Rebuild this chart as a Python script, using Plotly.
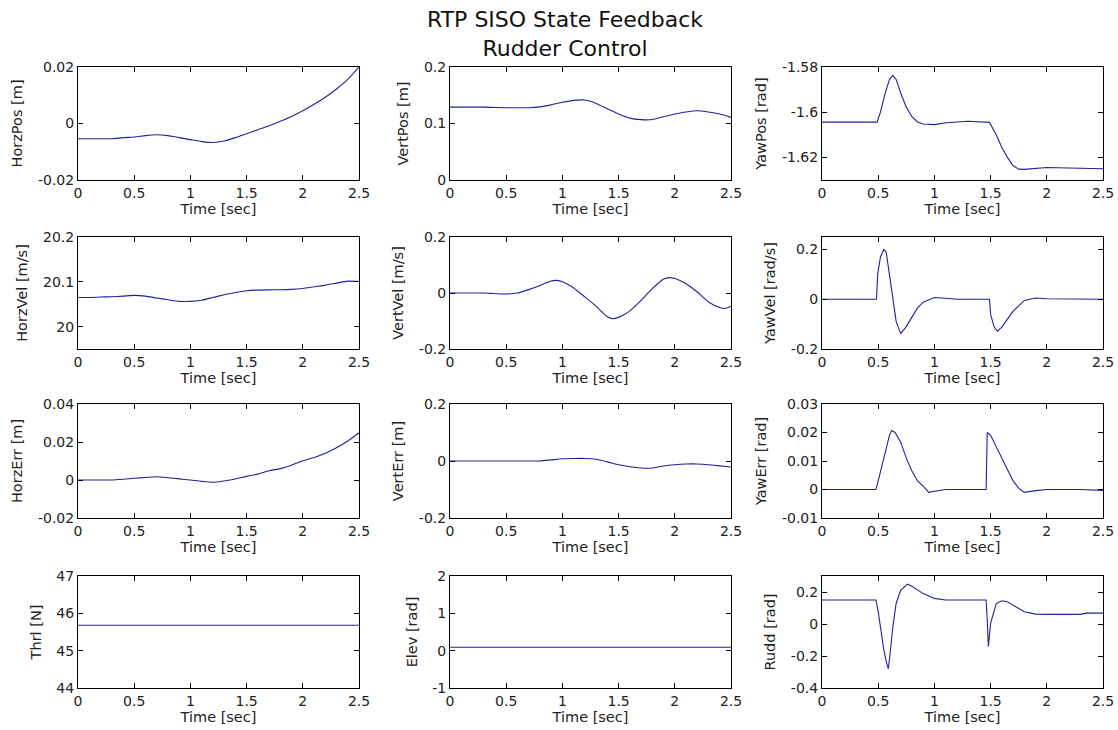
import plotly.graph_objects as go

# ---- data ----
t_10 = [0.0, 0.1, 0.2, 0.3, 0.4, 0.5, 0.6, 0.7, 0.8, 0.9, 1.0, 1.1, 1.2,
        1.3, 1.4, 1.5, 1.6, 1.7, 1.8, 1.9, 2.0, 2.1, 2.2, 2.3, 2.4, 2.5]

horz_pos = [-0.0054, -0.0054, -0.0054, -0.0054, -0.0050, -0.0048, -0.0043,
            -0.0040, -0.0043, -0.0050, -0.0057, -0.0064, -0.0067, -0.0062,
            -0.0050, -0.0036, -0.0022, -0.0008, 0.0008, 0.0025, 0.0045,
            0.0068, 0.0093, 0.0122, 0.0156, 0.0200]

vert_pos = [0.129, 0.129, 0.129, 0.129, 0.1282, 0.128, 0.128, 0.128, 0.1295,
            0.133, 0.1375, 0.141, 0.1415, 0.1355, 0.126, 0.1167, 0.1095,
            0.1068, 0.107, 0.112, 0.1167, 0.1205, 0.1226, 0.1205, 0.1167,
            0.1107]

t_yaw_pos = [0.0, 0.49, 0.52, 0.56, 0.6, 0.63, 0.66, 0.7, 0.75, 0.8, 0.85,
             0.9, 1.0, 1.1, 1.3, 1.49, 1.55, 1.6, 1.65, 1.7, 1.75, 1.8, 2.0,
             2.3, 2.5]
yaw_pos = [-1.6044, -1.6044, -1.600, -1.592, -1.5855, -1.5837, -1.5855,
           -1.5915, -1.5978, -1.602, -1.6043, -1.6052, -1.6055, -1.6047,
           -1.6040, -1.6045, -1.610, -1.6156, -1.620, -1.6237, -1.6252,
           -1.6253, -1.6245, -1.6247, -1.6250]

horz_vel = [20.065, 20.065, 20.066, 20.0667, 20.068, 20.0696, 20.068,
            20.0637, 20.060, 20.0563, 20.0563, 20.059, 20.065, 20.071,
            20.0763, 20.080, 20.0815, 20.082, 20.0822, 20.083, 20.0852,
            20.089, 20.0926, 20.097, 20.1015, 20.1007]

t_vert_vel = [0.0, 0.1, 0.2, 0.3, 0.4, 0.5, 0.6, 0.7, 0.8, 0.85, 0.9, 0.95,
              1.0, 1.05, 1.1, 1.2, 1.3, 1.35, 1.4, 1.45, 1.5, 1.55, 1.6,
              1.7, 1.8, 1.85, 1.9, 1.95, 2.0, 2.05, 2.1, 2.2, 2.3, 2.4,
              2.45, 2.5]
vert_vel = [0.0, 0.0, 0.0, 0.0, -0.002, -0.0036, 0.0, 0.012, 0.027, 0.036,
            0.043, 0.045, 0.040, 0.030, 0.018, -0.014, -0.047, -0.067,
            -0.085, -0.092, -0.087, -0.077, -0.064, -0.026, 0.0155, 0.034,
            0.050, 0.055, 0.052, 0.044, 0.033, 0.0036, -0.032, -0.052,
            -0.055, -0.047]

t_yaw_vel = [0.0, 0.485, 0.495, 0.52, 0.55, 0.57, 0.6, 0.63, 0.66, 0.7,
             0.75, 0.8, 0.85, 0.9, 1.0, 1.1, 1.2, 1.49, 1.5, 1.53, 1.56,
             1.6, 1.65, 1.7, 1.8, 1.9, 2.0, 2.5]
yaw_vel = [0.0, 0.0, 0.1, 0.17, 0.2, 0.19, 0.1, 0.0, -0.09, -0.138,
           -0.11, -0.072, -0.035, -0.012, 0.0067, 0.004, 0.0, 0.0, -0.06,
           -0.11, -0.128, -0.112, -0.08, -0.048, -0.005, 0.005, 0.002, 0.0]

horz_err = [0.0, 0.0, 0.0, 0.0, 0.0004, 0.0009, 0.0013, 0.0017, 0.0012,
            0.0006, 0.0, -0.0007, -0.0012, -0.0005, 0.0005, 0.0019, 0.0031,
            0.0049, 0.0060, 0.0078, 0.0101, 0.0118, 0.0141, 0.0170, 0.0205,
            0.0249]

vert_err = [0.0, 0.0, 0.0, 0.0, 0.0, 0.0, 0.0, 0.0, 0.0, 0.004, 0.008,
            0.0088, 0.009, 0.006, -0.003, -0.013, -0.020, -0.0245, -0.0245,
            -0.0175, -0.013, -0.0105, -0.0105, -0.013, -0.017, -0.021]

t_yaw_err = [0.0, 0.48, 0.5, 0.55, 0.6, 0.62, 0.65, 0.7, 0.75, 0.8, 0.85,
             0.9, 0.95, 1.0, 1.1, 1.46, 1.47, 1.5, 1.55, 1.6, 1.65, 1.7,
             1.75, 1.8, 1.9, 2.0, 2.3, 2.5]
yaw_err = [0.0, 0.0, 0.003, 0.011, 0.019, 0.0207, 0.020, 0.0166, 0.011,
           0.0065, 0.003, 0.0012, -0.001, -0.0006, 0.0, 0.0, 0.020, 0.019,
           0.015, 0.0106, 0.0065, 0.003, 0.0005, -0.001, -0.0004, 0.0, 0.0,
           -0.0003]

t_const = [0.0, 2.5]
thrl = [45.68, 45.68]
elev = [0.09, 0.09]

t_rudd = [0.0, 0.48, 0.5, 0.53, 0.55, 0.57, 0.59, 0.6, 0.63, 0.66, 0.7,
          0.76, 0.8, 0.9, 1.0, 1.1, 1.46, 1.47, 1.48, 1.5, 1.55, 1.6, 1.65,
          1.7, 1.8, 1.9, 2.0, 2.3, 2.35, 2.5]
rudd = [0.15, 0.15, 0.077, -0.08, -0.162, -0.23, -0.28, -0.22, -0.02, 0.13,
        0.211, 0.249, 0.236, 0.19, 0.16, 0.15, 0.15, 0.025, -0.14, 0.004,
        0.128, 0.145, 0.139, 0.118, 0.077, 0.062, 0.06, 0.06, 0.068, 0.068]

x_ticks = [0, 0.5, 1, 1.5, 2, 2.5]
x_ticktext = ['0', '0.5', '1', '1.5', '2', '2.5']

# (label, t, y, y range, y ticks, y tick text, smooth)
panels = [
    ('HorzPos [m]', t_10, horz_pos, [-0.02, 0.02], [-0.02, 0, 0.02], ['-0.02', '0', '0.02'], True),
    ('VertPos [m]', t_10, vert_pos, [0, 0.2], [0, 0.1, 0.2], ['0', '0.1', '0.2'], True),
    ('YawPos [rad]', t_yaw_pos, yaw_pos, [-1.63, -1.58], [-1.62, -1.6, -1.58], ['-1.62', '-1.6', '-1.58'], False),
    ('HorzVel [m/s]', t_10, horz_vel, [19.95, 20.2], [20, 20.1, 20.2], ['20', '20.1', '20.2'], True),
    ('VertVel [m/s]', t_vert_vel, vert_vel, [-0.2, 0.2], [-0.2, 0, 0.2], ['-0.2', '0', '0.2'], True),
    ('YawVel [rad/s]', t_yaw_vel, yaw_vel, [-0.2, 0.25], [-0.2, 0, 0.2], ['-0.2', '0', '0.2'], False),
    ('HorzErr [m]', t_10, horz_err, [-0.02, 0.04], [-0.02, 0, 0.02, 0.04], ['-0.02', '0', '0.02', '0.04'], True),
    ('VertErr [m]', t_10, vert_err, [-0.2, 0.2], [-0.2, 0, 0.2], ['-0.2', '0', '0.2'], True),
    ('YawErr [rad]', t_yaw_err, yaw_err, [-0.01, 0.03], [-0.01, 0, 0.01, 0.02, 0.03], ['-0.01', '0', '0.01', '0.02', '0.03'], False),
    ('Thrl [N]', t_const, thrl, [44, 47], [44, 45, 46, 47], ['44', '45', '46', '47'], False),
    ('Elev [rad]', t_const, elev, [-1, 2], [-1, 0, 1, 2], ['-1', '0', '1', '2'], False),
    ('Rudd [rad]', t_rudd, rudd, [-0.4, 0.3], [-0.4, -0.2, 0, 0.2], ['-0.4', '-0.2', '0', '0.2'], False),
]

W, H = 1118, 730
col_px = [(78, 359), (450, 731), (822, 1103)]
row_px = [(67, 180), (237, 349), (404, 518), (576, 688)]

FONT = 'DejaVu Sans, Arial, Helvetica, sans-serif'
LINE = '#22209c'

fig = go.Figure()
layout = {}
for i, (label, tt, yy, yr, yt, ytt, smooth) in enumerate(panels):
    r, c = divmod(i, 3)
    n = '' if i == 0 else str(i + 1)
    fig.add_trace(go.Scatter(
        x=tt, y=yy, mode='lines',
        line=dict(color=LINE, width=1.1,
                  shape='spline' if smooth else 'linear', smoothing=0.6),
        xaxis='x' + n, yaxis='y' + n, showlegend=False, hoverinfo='skip'
    ))
    x0, x1 = col_px[c]
    y0, y1 = row_px[r]
    common = dict(showline=True, linecolor='black', linewidth=1, mirror='ticks',
                  ticks='inside', ticklen=5, tickcolor='black', showgrid=False,
                  zeroline=False, tickfont=dict(family=FONT, size=14, color='#222'),
                  automargin=False)
    layout['xaxis' + n] = dict(
        domain=[x0 / W, x1 / W], anchor='y' + n, range=[0, 2.5],
        tickvals=x_ticks, ticktext=x_ticktext,
        title=dict(text='Time [sec]', font=dict(family=FONT, size=14.5, color='#222'),
                   standoff=2),
        **common)
    layout['yaxis' + n] = dict(
        domain=[1 - y1 / H, 1 - y0 / H], anchor='x' + n, range=yr,
        tickvals=yt, ticktext=ytt,
        title=dict(text=label, font=dict(family=FONT, size=14.5, color='#222'),
                   standoff=11),
        **common)

fig.update_layout(**layout)
fig.add_annotation(
    text='RTP SISO State Feedback<br>Rudder Control', xref='paper', yref='paper',
    x=565 / W, y=1 - 5 / H, xanchor='center', yanchor='top', showarrow=False,
    font=dict(family=FONT, size=22, color='#111')
)
fig.update_layout(
    width=W, height=H, margin=dict(l=0, r=0, t=0, b=0),
    paper_bgcolor='white', plot_bgcolor='white'
)

# page has a default 8px body margin; drop it so the figure fills the window
fig.write_html("out.html", config={'displayModeBar': False},
               post_script="document.body.style.margin='0';")
